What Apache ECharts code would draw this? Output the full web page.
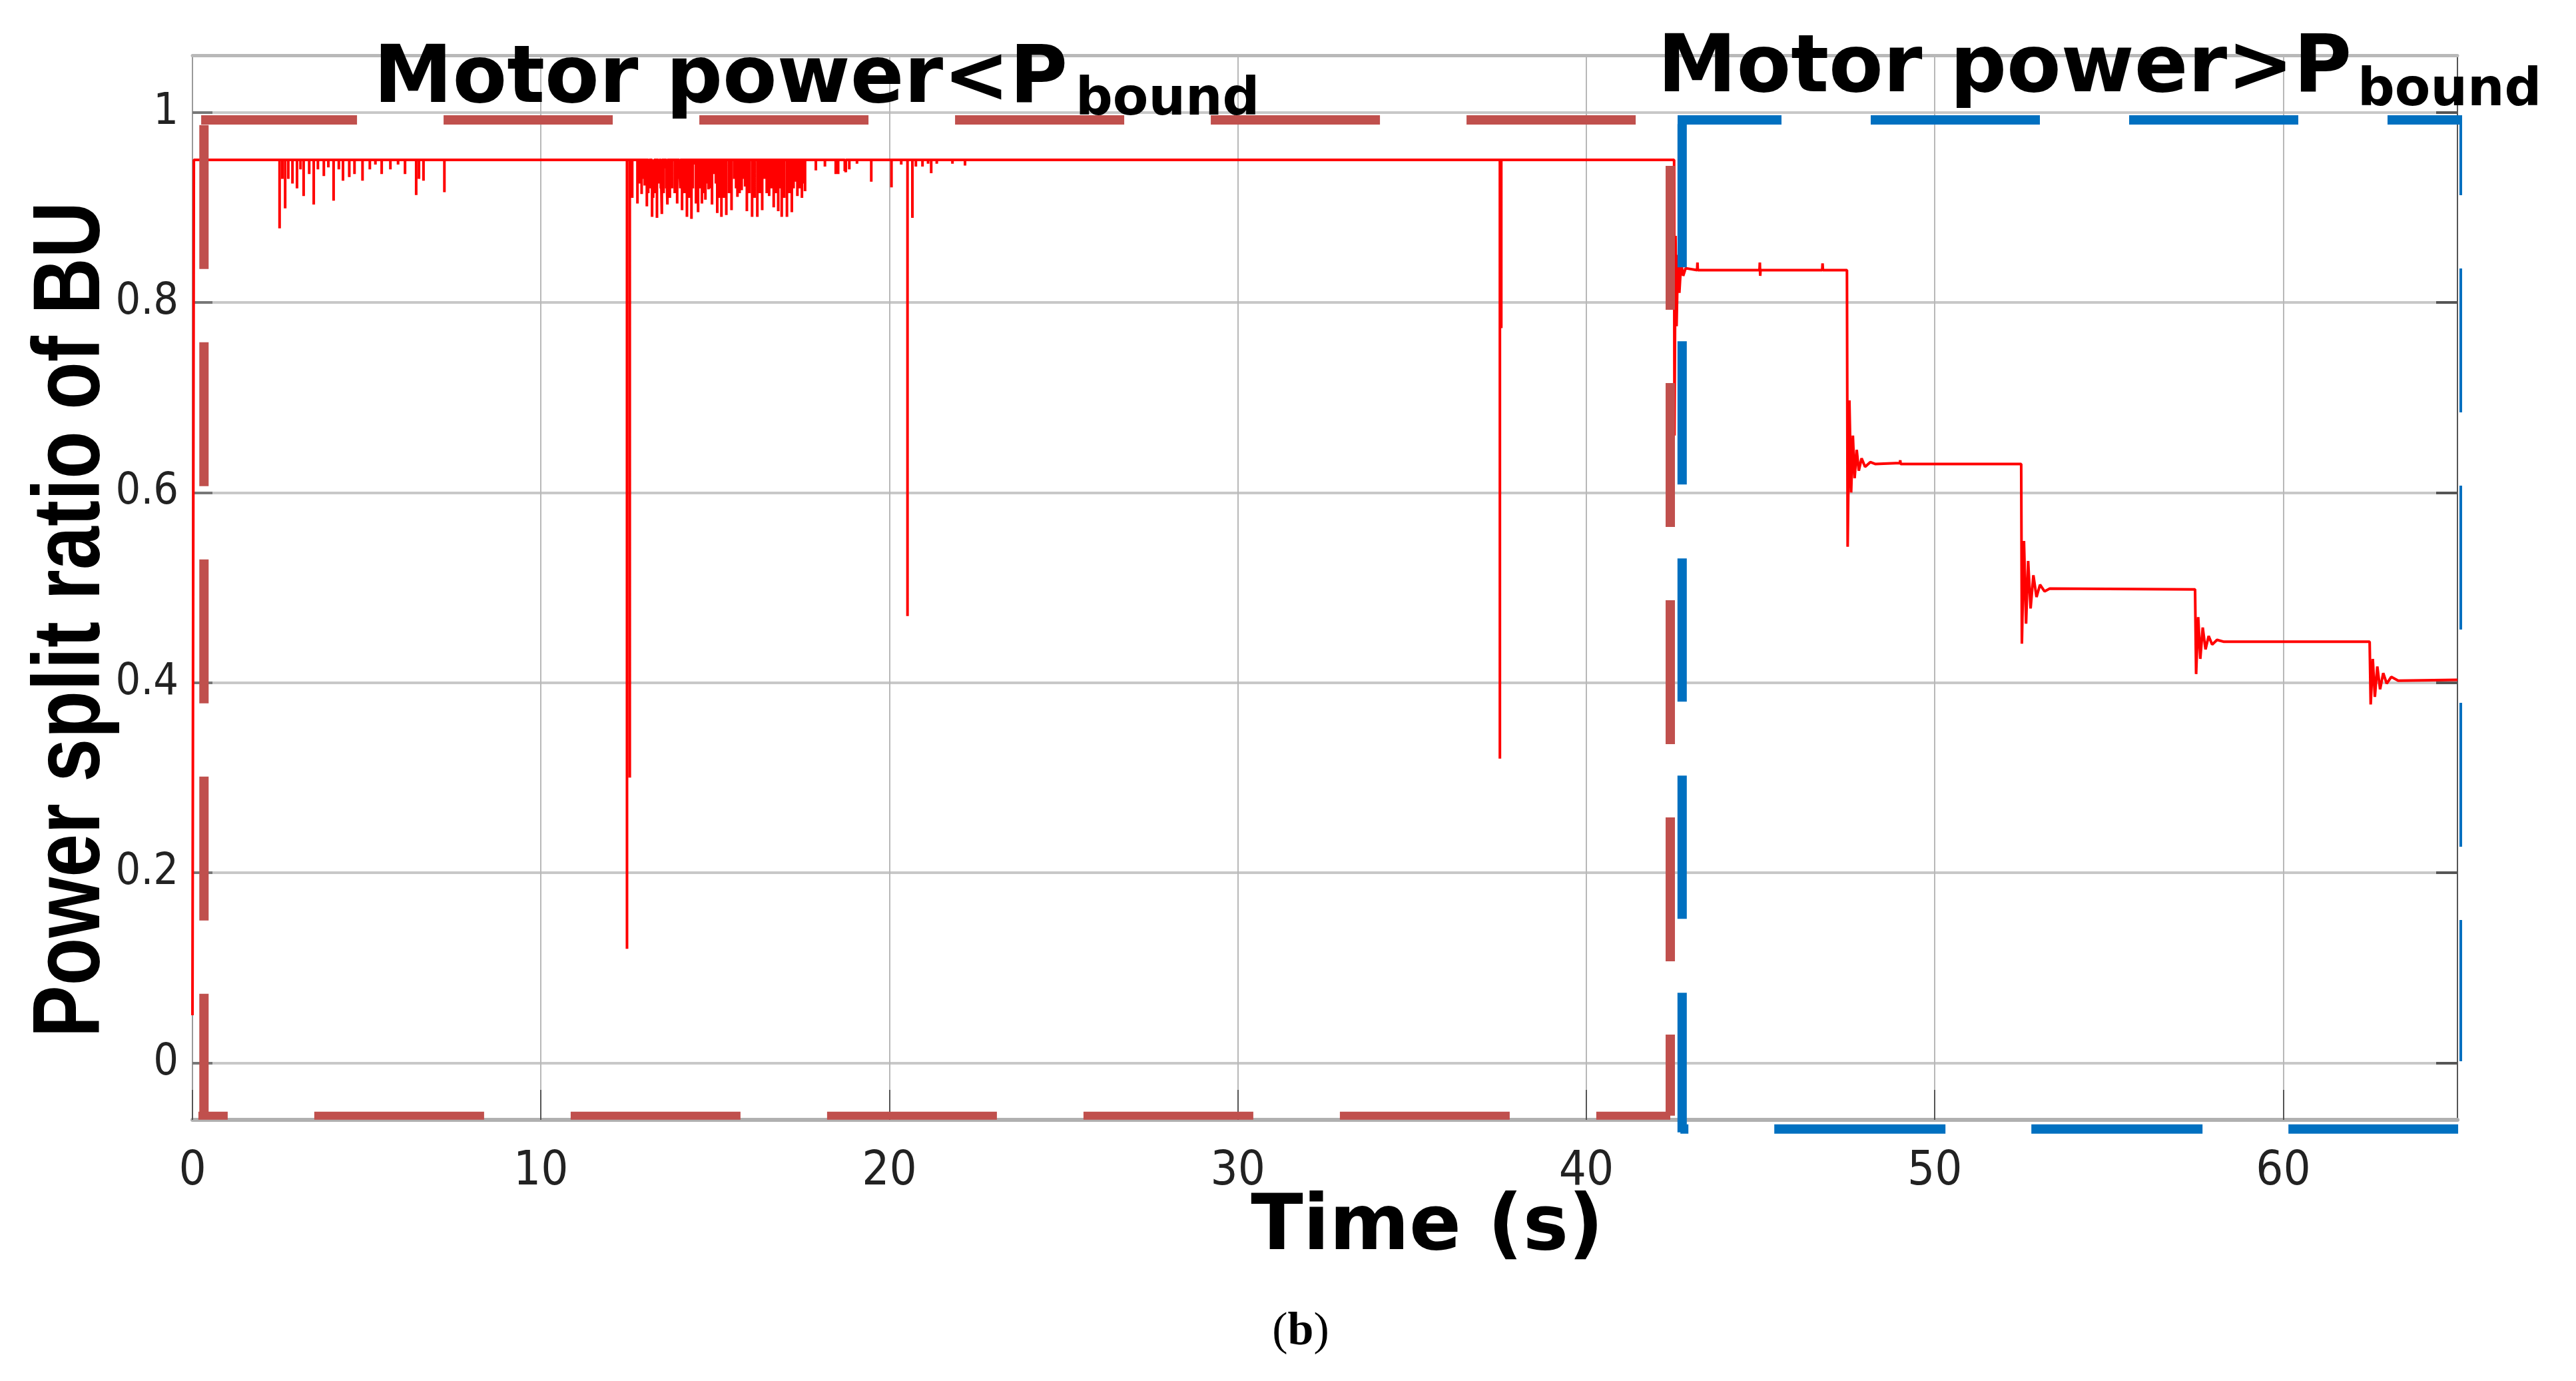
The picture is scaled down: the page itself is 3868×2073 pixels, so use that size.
<!DOCTYPE html>
<html><head><meta charset="utf-8">
<script src="https://cdn.jsdelivr.net/npm/echarts@6/dist/echarts.min.js"></script>
<style>html,body{margin:0;padding:0;background:#fff}#chart{width:3868px;height:2073px}</style>
</head><body><div id="chart"></div>
<script>
// ---------- data ----------
const xTicks = [0, 10, 20, 30, 40, 50, 60];
const yTicks = [0, 0.2, 0.4, 0.6, 0.8, 1];
const xRange = [0, 65];
const yRange = [-0.06, 1.06];

const baseLevel = 0.95;
const startTimes = [0, 0.04];
const startValues = [0.05, 0.95];

const spikeTimes = [
  2.50, 2.58, 2.66, 2.75, 2.87, 3.00, 3.10, 3.19, 3.35, 3.48, 3.60, 3.77, 3.90, 4.05, 4.20, 4.32, 4.50, 4.65, 4.88, 5.09, 5.25, 5.43, 5.68, 5.90, 6.10, 6.42, 6.50, 6.63, 7.23,
  12.47, 12.55, 12.62, 12.77, 12.83, 12.89, 12.94, 12.98, 13.04, 13.08, 13.11, 13.15, 13.19, 13.22, 13.25, 13.29, 13.33, 13.37, 13.40, 13.44, 13.47, 13.52, 13.56, 13.60, 13.63, 13.70, 13.76, 13.84, 13.91, 13.97,
  14.00, 14.05, 14.12, 14.19, 14.25, 14.32, 14.36, 14.40, 14.45, 14.51, 14.57, 14.62, 14.67, 14.72, 14.77, 14.81, 14.86, 14.91, 14.98,
  15.02, 15.06, 15.12, 15.18, 15.25, 15.32, 15.40, 15.47, 15.55, 15.60, 15.64, 15.70, 15.76, 15.81, 15.86, 15.91, 15.98,
  16.06, 16.13, 16.21, 16.28, 16.35, 16.42, 16.48, 16.55, 16.62, 16.68, 16.75, 16.81, 16.86, 16.91, 16.98,
  17.06, 17.13, 17.20, 17.25, 17.29, 17.36, 17.42, 17.49, 17.54, 17.58,
  17.89, 18.15, 18.46, 18.53, 18.72, 18.75, 18.85, 19.07, 19.48, 20.06, 20.34, 20.52, 20.66, 20.76, 20.95, 21.11, 21.20, 21.36, 21.81, 22.17,
  37.52, 37.56
];
const spikeLows = [
  0.878, 0.930, 0.899, 0.930, 0.925, 0.920, 0.940, 0.912, 0.935, 0.903, 0.940, 0.933, 0.942, 0.907, 0.940, 0.928, 0.932, 0.935, 0.928, 0.940, 0.945, 0.935, 0.940, 0.945, 0.935, 0.913, 0.930, 0.928, 0.916,
  0.12, 0.30, 0.910, 0.904, 0.925, 0.914, 0.930, 0.923, 0.901, 0.915, 0.941, 0.920, 0.890, 0.910, 0.930, 0.915, 0.889, 0.925, 0.945, 0.920, 0.893, 0.915, 0.941, 0.920, 0.903, 0.910, 0.920, 0.915, 0.904, 0.930,
  0.920, 0.897, 0.915, 0.890, 0.910, 0.888, 0.920, 0.945, 0.904, 0.895, 0.920, 0.904, 0.915, 0.908, 0.925, 0.919, 0.920, 0.903, 0.935,
  0.925, 0.894, 0.910, 0.890, 0.910, 0.892, 0.915, 0.897, 0.930, 0.920, 0.911, 0.915, 0.918, 0.930, 0.922, 0.896, 0.915,
  0.890, 0.910, 0.890, 0.915, 0.897, 0.930, 0.915, 0.912, 0.920, 0.900, 0.915, 0.896, 0.920, 0.890, 0.910,
  0.890, 0.915, 0.895, 0.920, 0.927, 0.912, 0.920, 0.910, 0.925, 0.917,
  0.939, 0.943, 0.935, 0.935, 0.938, 0.937, 0.940, 0.946, 0.927, 0.921, 0.945, 0.47, 0.889, 0.943, 0.943, 0.946, 0.936, 0.946, 0.946, 0.944,
  0.32, 0.773
];

const tailTimes = [
  42.52, 42.53, 42.56, 42.59, 42.63, 42.67, 42.72, 42.78, 42.85,
  43.18, 43.19, 43.20, 44.97, 44.98, 44.99, 45.00, 46.77, 46.78, 46.79,
  47.48, 47.50, 47.55, 47.60, 47.65, 47.70, 47.76, 47.82, 47.90, 48.00, 48.15, 48.30, 49.00, 49.01, 49.02,
  52.48, 52.50, 52.56, 52.62, 52.68, 52.75, 52.83, 52.92, 53.02, 53.15, 53.30,
  57.47, 57.50, 57.56, 57.62, 57.69, 57.77, 57.86, 57.96, 58.10, 58.30,
  62.48, 62.51, 62.57, 62.63, 62.70, 62.78, 62.87, 62.97, 63.10, 63.30, 65.00
];
const tailValues = [
  0.950, 0.660, 0.870, 0.775, 0.850, 0.810, 0.842, 0.828, 0.836,
  0.834, 0.842, 0.834, 0.834, 0.842, 0.828, 0.834, 0.834, 0.841, 0.834,
  0.834, 0.543, 0.697, 0.600, 0.660, 0.615, 0.645, 0.623, 0.636, 0.627, 0.632, 0.630, 0.631, 0.634, 0.630,
  0.630, 0.441, 0.549, 0.462, 0.528, 0.478, 0.513, 0.490, 0.503, 0.496, 0.499,
  0.498, 0.409, 0.469, 0.425, 0.458, 0.435, 0.449, 0.440, 0.445, 0.443,
  0.443, 0.377, 0.425, 0.385, 0.417, 0.393, 0.410, 0.399, 0.406, 0.402, 0.403
];

// dashed annotation boxes (data coordinates of each edge)
const redBoxTop = [[0.25, 0.992], [42.41, 0.992]];
const redBoxLeft = [[0.33, 0.9866], [0.33, -0.0557]];
const redBoxBottom = [[0.17, -0.0557], [42.41, -0.0557]];
const redBoxRight = [[42.41, 0.9437], [42.41, -0.0557]];
const blueBoxTop = [[42.62, 0.992], [65.31, 0.992]];
const blueBoxLeft = [[42.75, 0.9877], [42.75, -0.0732]];
const blueBoxBottom = [[42.70, -0.0697], [65.02, -0.0697]];
const blueBoxRight = [[65.19, 0.9941], [65.19, 0.0017]];

// ---------- build ----------
const points = [];
for (let i = 0; i < startTimes.length; i++) points.push([startTimes[i], startValues[i]]);
for (let i = 0; i < spikeTimes.length; i++) {
  const t = spikeTimes[i];
  points.push([t, baseLevel], [t, spikeLows[i]], [t, baseLevel]);
}
for (let i = 0; i < tailTimes.length; i++) points.push([tailTimes[i], tailValues[i]]);

const narrow = "'DejaVu Sans Condensed', 'Liberation Sans', sans-serif";
const RED_BOX = '#C0504D', BLUE_BOX = '#0070C0';

function edge(data, color, width, dash, offset) {
  return {
    type: 'line', data: data, symbol: 'none', showSymbol: false, clip: false, silent: true, z: 4,
    xAxisIndex: 0, yAxisIndex: 0, animation: false,
    lineStyle: { color: color, width: width, type: dash, dashOffset: offset, cap: 'butt' }
  };
}

const chart = echarts.init(document.getElementById('chart'), null, { renderer: 'canvas' });
chart.setOption({
  backgroundColor: '#ffffff',
  animation: false,
  grid: { left: 289, top: 83, width: 3401, height: 1598, containLabel: false, outerBoundsMode: 'none' },
  xAxis: [
    {
      type: 'value', min: xRange[0], max: xRange[1], position: 'bottom',
      axisLine: { show: true, onZero: false, lineStyle: { color: '#b0b0b0', width: 6 } },
      axisTick: { show: true, inside: true, length: 45, customValues: xTicks, lineStyle: { color: '#555', width: 2 } },
      axisLabel: { show: true, customValues: xTicks, margin: 42, fontSize: 72, fontFamily: narrow, color: '#222' },
      splitLine: { show: true, lineStyle: { color: '#b8b8b8', width: 2 } }
    },
    {
      type: 'value', min: xRange[0], max: xRange[1], position: 'top',
      axisLine: { show: true, onZero: false, lineStyle: { color: '#b8b8b8', width: 5 } },
      axisTick: { show: false }, axisLabel: { show: false }, splitLine: { show: false }
    }
  ],
  yAxis: [
    {
      type: 'value', min: yRange[0], max: yRange[1], position: 'left',
      axisLine: { show: true, onZero: false, lineStyle: { color: '#9a9a9a', width: 2 } },
      axisTick: { show: true, inside: true, length: 30, customValues: yTicks, lineStyle: { color: '#777', width: 4 } },
      axisLabel: { show: true, customValues: yTicks, margin: 21, fontSize: 66, fontFamily: narrow, color: '#222' },
      splitLine: { show: true, lineStyle: { color: '#c8c8c8', width: 4 } }
    },
    {
      type: 'value', min: yRange[0], max: yRange[1], position: 'right',
      axisLine: { show: true, onZero: false, lineStyle: { color: '#555', width: 2 } },
      axisTick: { show: true, inside: true, length: 32, customValues: yTicks, lineStyle: { color: '#555', width: 4 } },
      axisLabel: { show: false }, splitLine: { show: false }
    }
  ],
  series: [
    {
      type: 'line', data: points, symbol: 'none', showSymbol: false, z: 3, silent: true,
      xAxisIndex: 0, yAxisIndex: 0,
      lineStyle: { color: '#ff0000', width: 4, join: 'bevel' }
    },
    edge(redBoxTop, RED_BOX, 14, [254, 130], 20),
    edge(redBoxLeft, RED_BOX, 14, [216, 110], 0),
    edge(redBoxBottom, RED_BOX, 12, [255, 130], 211),
    edge(redBoxRight, RED_BOX, 14, [216, 110], 0),
    edge(blueBoxTop, BLUE_BOX, 14, [254, 134], 98),
    edge(blueBoxLeft, BLUE_BOX, 14, [215, 111], 0),
    edge(blueBoxBottom, BLUE_BOX, 14, [257, 129], 245),
    edge(blueBoxRight, BLUE_BOX, 14, [216, 110], 100)
  ],
  graphic: [
    { type: 'text', x: 561, y: 122, z: 100, style: { text: 'Motor power<P', font: "bold 119px 'DejaVu Sans'", fill: '#000', align: 'left', verticalAlign: 'middle' } },
    { type: 'text', x: 1615, y: 152, z: 100, style: { text: 'bound', font: "bold 78px 'DejaVu Sans'", fill: '#000', align: 'left', verticalAlign: 'middle' } },
    { type: 'text', x: 2489, y: 106, z: 100, style: { text: 'Motor power>P', font: "bold 119px 'DejaVu Sans'", fill: '#000', align: 'left', verticalAlign: 'middle' } },
    { type: 'text', x: 3540, y: 138, z: 100, style: { text: 'bound', font: "bold 78px 'DejaVu Sans'", fill: '#000', align: 'left', verticalAlign: 'middle' } },
    { type: 'text', x: 2143, y: 1845, z: 100, style: { text: 'Time (s)', font: "bold 115px 'DejaVu Sans'", fill: '#000', align: 'center', verticalAlign: 'middle' } },
    { type: 'text', x: 110, y: 930, rotation: Math.PI / 2, scaleX: 0.818, scaleY: 1, z: 100,
      style: { text: 'Power split ratio of BU', font: "bold 143px 'Liberation Sans'", fill: '#000', align: 'center', verticalAlign: 'middle' } },
    { type: 'text', x: 1953, y: 2000, z: 100, style: { text: '{n|(}{b|b}{n|)}', align: 'center', verticalAlign: 'middle',
        rich: { n: { font: "70px 'Liberation Serif'", fill: '#000' }, b: { font: "bold 70px 'Liberation Serif'", fill: '#000' } } } }
  ]
});
</script></body></html>
